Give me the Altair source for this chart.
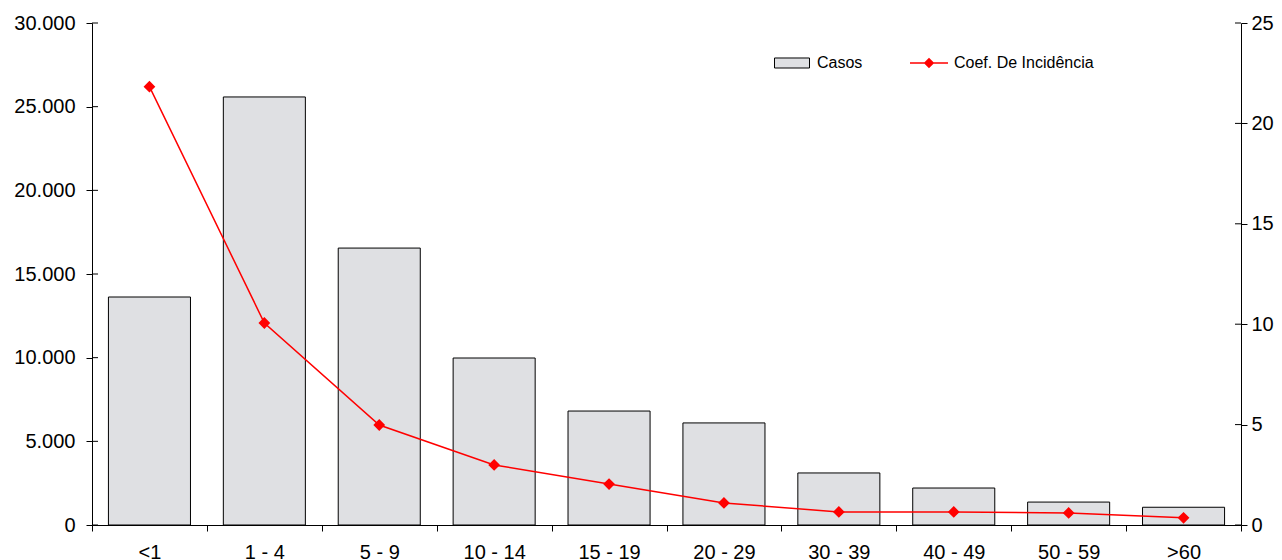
import altair as alt
import pandas as pd

categories = ["<1", "1 - 4", "5 - 9", "10 - 14", "15 - 19", "20 - 29", "30 - 39", "40 - 49", "50 - 59", ">60"]
casos = [13625, 25580, 16550, 9980, 6810, 6100, 3110, 2210, 1370, 1060]
coef = [21.83, 10.06, 4.98, 2.99, 2.04, 1.10, 0.65, 0.65, 0.60, 0.36]
left_ticks = [0, 5000, 10000, 15000, 20000, 25000, 30000]
right_ticks = [0, 5, 10, 15, 20, 25]

W, H = 1149, 502
FONT = "Liberation Sans"
FS = 20
LFS = 16

df = pd.DataFrame({"faixa": categories, "casos": casos, "coef": coef,
                   "s1": "Casos", "s2": "Coef. De Incidência"})
lt = pd.DataFrame({"casos": left_ticks})
rt = pd.DataFrame({"coef": right_ticks})

xscale = alt.Scale(paddingInner=0, paddingOuter=0)
xaxis = alt.Axis(tickBand="extent", labelAngle=0, tickSize=6, labelPadding=11,
                 labelFontSize=FS, labelColor="black", labelFont=FONT,
                 domainColor="black", tickColor="black", domainWidth=1, tickWidth=1)

left_axis = alt.Axis(values=left_ticks, tickSize=6, labelPadding=11, labelFontSize=FS,
                     labelFont=FONT, labelColor="black", domainColor="black",
                     tickColor="black", grid=False,
                     labelExpr="replace(format(datum.value, ','), ',', '.')")
right_axis = alt.Axis(orient="right", values=right_ticks, tickSize=6, labelPadding=4,
                      labelFontSize=FS, labelFont=FONT, labelColor="black",
                      domainColor="black", tickColor="black", grid=False)
lscale = alt.Scale(domain=[0, 30000], nice=False)
rscale = alt.Scale(domain=[0, 25], nice=False)

bars = alt.Chart(df).mark_bar(stroke="black", strokeWidth=1,
                              width=alt.RelativeBandSize(0.714)).encode(
    x=alt.X("faixa:N", sort=categories, title=None, scale=xscale, axis=xaxis),
    y=alt.Y("casos:Q", title=None, scale=lscale, axis=left_axis),
    fill=alt.Fill("s1:N", scale=alt.Scale(range=["#dfe0e3"]),
                  legend=alt.Legend(title=None, orient="none", legendX=682, legendY=22,
                                    symbolType="M-1,-0.286H1V0.286H-1Z", symbolSize=1225,
                                    symbolStrokeColor="black", symbolStrokeWidth=1,
                                    labelFontSize=LFS, labelFont=FONT, labelColor="black",
                                    labelOffset=7, padding=0)),
)

lticks = alt.Chart(lt).mark_rule(color="black", strokeWidth=1).encode(
    y=alt.Y("casos:Q", title=None, scale=lscale, axis=left_axis),
    x=alt.value(0), x2=alt.value(6),
)

line = alt.Chart(df).mark_line(strokeWidth=1.5, point=alt.OverlayMarkDef(shape="diamond", size=80, filled=True, color="#ff0000")).encode(
    x=alt.X("faixa:N", sort=categories, title=None, scale=xscale, axis=xaxis),
    y=alt.Y("coef:Q", title=None, scale=rscale, axis=right_axis),
    stroke=alt.Stroke("s2:N", scale=alt.Scale(range=["#ff0000"]),
                      legend=alt.Legend(title=None, orient="none", legendX=817, legendY=20,
                                        symbolType="M-1,0H1M0,-0.22L0.22,0L0,0.22L-0.22,0Z",
                                        symbolSize=1444, symbolFillColor="#ff0000",
                                        symbolStrokeColor="#ff0000", symbolStrokeWidth=1.5,
                                        labelFontSize=LFS, labelFont=FONT, labelColor="black",
                                        labelOffset=5, padding=0)),
)

rticks = alt.Chart(rt).mark_rule(color="black", strokeWidth=1).encode(
    y=alt.Y("coef:Q", title=None, scale=rscale, axis=right_axis),
    x=alt.value(W - 6), x2=alt.value(W),
)

chart = alt.layer(
    alt.layer(bars, lticks),
    alt.layer(line, rticks),
).resolve_scale(y="independent", fill="independent", stroke="independent").properties(
    width=W, height=H,
    autosize=alt.AutoSizeParams(type="none"),
    padding={"left": 84, "top": 15, "right": 33, "bottom": 44},
).configure_view(stroke=None).configure_axis(labelFont=FONT)

chart.save("out.html", embed_options={"renderer": "svg", "actions": False})
